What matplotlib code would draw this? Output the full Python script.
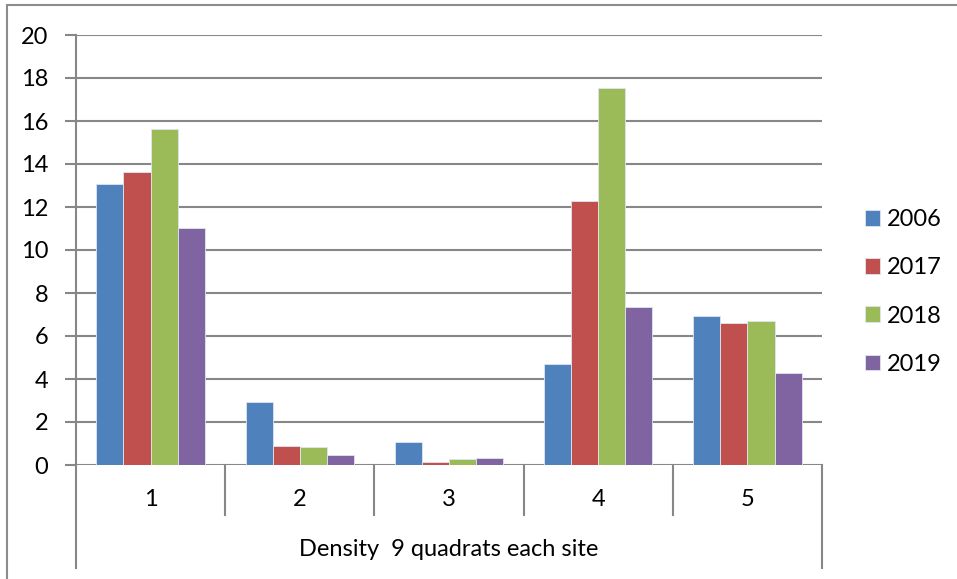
import matplotlib
matplotlib.use("Agg")
import matplotlib.pyplot as plt
import numpy as np
from matplotlib.patches import Rectangle

sites = ["1", "2", "3", "4", "5"]
years = ["2006", "2017", "2018", "2019"]
v2006 = [13.08, 2.94, 1.07, 4.68, 6.95]
v2017 = [13.62, 0.88, 0.16, 12.26, 6.59]
v2018 = [15.64, 0.82, 0.28, 17.55, 6.71]
v2019 = [11.04, 0.47, 0.33, 7.35, 4.28]
colors = ["#4F81BD", "#C0504D", "#9BBB59", "#8064A2"]
xlabel = "Density  9 quadrats each site"
yticks = list(range(0, 21, 2))

plt.rcParams['font.family'] = ['Lato', 'DejaVu Sans']
W, H = 957, 579
fig = plt.figure(figsize=(W / 100, H / 100), dpi=100)

# chart border
fig.patches.append(Rectangle((7 / W, -0.1), 1.2, (H - 5) / H + 0.1, transform=fig.transFigure,
                             fill=False, edgecolor="#8c8c8c", lw=1.5))

L, R, T, B = 76, 822, 35, 465
ax = fig.add_axes([L / W, (H - B) / H, (R - L) / W, (B - T) / H])
grid_c = "#878787"
fs = 17

series = [v2006, v2017, v2018, v2019]
n = len(series)
group = 4 / 5.5
bw = group / n
x = np.arange(len(sites)) + 0.5
for i, (vals, c, lab) in enumerate(zip(series, colors, years)):
    ax.bar(x - group / 2 + bw * (i + 0.5), vals, width=bw, color=c, label=lab,
           edgecolor="#dfe6f0", linewidth=0.6, zorder=3)

ax.set_xlim(0, 5)
ax.set_ylim(0, 20)
ax.set_yticks(yticks)
ax.set_yticklabels([str(t) for t in yticks], fontsize=fs)
ax.tick_params(axis='y', length=8, width=1.5, color=grid_c, pad=12)
ax.set_xticks([])
for yv in yticks:
    ax.axhline(yv, color=grid_c, lw=1.5, zorder=1)
for s in ["top", "right", "bottom"]:
    ax.spines[s].set_visible(False)
ax.spines["left"].set_color(grid_c)
ax.spines["left"].set_linewidth(1.5)

# multi-level category axis
y_sep = (B - 515) / (B - T)
y_end = (B - 568) / (B - T)
trans = ax.get_xaxis_transform()
for xs in [1, 2, 3, 4]:
    ax.plot([xs, xs], [0, y_sep], transform=trans, color=grid_c, lw=1.5, clip_on=False)
for xs in [0, 5]:
    ax.plot([xs, xs], [0, y_end], transform=trans, color=grid_c, lw=1.5, clip_on=False)
for xi, s in zip(x, sites):
    ax.text(xi, (B - 499) / (B - T), s, transform=trans, ha='center', va='center', fontsize=fs)
ax.text(2.5, (B - 550) / (B - T), xlabel, transform=trans, ha='center', va='center', fontsize=fs)

leg = ax.legend(loc='center left', bbox_to_anchor=(853 / W, (H - 292) / H),
                bbox_transform=fig.transFigure, frameon=False, fontsize=fs,
                handlelength=0.64, handleheight=0.64, handletextpad=0.3,
                labelspacing=1.15, borderpad=0)

fig.savefig("out.png", dpi=100)
